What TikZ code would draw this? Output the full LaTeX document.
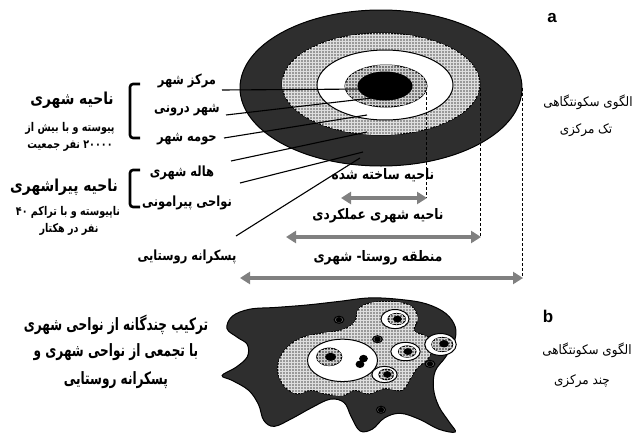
\documentclass[tikz,border=0pt]{standalone}
\usepackage{fontspec}
\setmainfont{Liberation Sans}
\TeXXeTstate=1
\newfontfamily\fa[Script=Arabic]{DejaVu Sans}
\usetikzlibrary{arrows.meta,patterns}
\newcommand{\RTLtxt}[1]{\beginR #1\endR}
\definecolor{darkring}{HTML}{2E2E2E}
\definecolor{midring}{HTML}{9A9A9A}
\definecolor{keyring}{HTML}{7A7A7A}
\definecolor{dotring}{HTML}{5A5A5A}
\definecolor{arrowgray}{HTML}{808080}
\begin{document}
\begin{tikzpicture}[x=1pt,y=-1pt,
  ringline/.style={draw=black, line width=1pt},
  darkfill/.style={ringline, fill=darkring},
  grayfill/.style={ringline, fill=midring, postaction={pattern=grid, pattern color=white!75!gray}},
  keyfill/.style={ringline, fill=keyring, postaction={pattern=grid, pattern color=gray!35}},
  dotfill/.style={ringline, fill=dotring},
  whitefill/.style={ringline, fill=white},
  corefill/.style={draw=black, line width=1pt, fill=black},
  leader/.style={draw=black, line width=1.1pt},
  dimline/.style={draw=black, line width=0.8pt, dash pattern=on 3pt off 2pt},
  dimarrow/.style={draw=arrowgray, line width=4pt, {Triangle[length=10pt,width=12pt]}-{Triangle[length=10pt,width=12pt]}},
  brack/.style={draw=black, line width=2.6pt, rounded corners=3pt},
  midlbl/.style={font=\fa\bfseries\fontsize{14}{16}\selectfont, inner sep=0pt, xscale=0.82},
  title/.style={font=\fa\bfseries\fontsize{16.5}{18}\selectfont, inner sep=0pt, xscale=0.84},
  sub/.style={font=\fa\bfseries\fontsize{12}{14}\selectfont, inner sep=0pt, xscale=0.8},
  dimlbl/.style={font=\fa\bfseries\fontsize{14.5}{16}\selectfont, inner sep=0pt, xscale=0.84},
  sidelbl/.style={font=\fa\fontsize{13}{15}\selectfont, inner sep=0pt, xscale=0.92},
  biglbl/.style={font=\fa\bfseries\fontsize{17}{19}\selectfont, inner sep=0pt, xscale=0.71},
  letter/.style={font=\bfseries\fontsize{17}{19}\selectfont, inner sep=0pt}
]
\useasboundingbox[fill=white] (0,0) rectangle (633,434);

% ---------- (a) concentric model ----------
\path[darkfill] (381,88) ellipse [x radius=141pt, y radius=78pt];
\path[grayfill] (381,84) ellipse [x radius=99pt, y radius=51pt];
\path[whitefill] (385,85) ellipse [x radius=68pt, y radius=35pt];
\path[keyfill] (386,86) ellipse [x radius=41pt, y radius=21pt];
\path[corefill] (385,86) ellipse [x radius=27pt, y radius=14pt];

% dashed extension lines
\coordinate (d1t) at (426,92);
\coordinate (d1b) at (426,198);
\coordinate (d2t) at (480,88);
\coordinate (d2b) at (480,237);
\coordinate (d3t) at (522,88);
\coordinate (d3b) at (522,278);
\draw[dimline] (d1t) -- (d1b);
\draw[dimline] (d2t) -- (d2b);
\draw[dimline] (d3t) -- (d3b);

% labels of the rings
\node[midlbl] (mc) at (187,81) {\RTLtxt{مرکز شهر}};
\node[midlbl] (sd) at (187,110) {\RTLtxt{شهر درونی}};
\node[midlbl] (hs) at (187,139) {\RTLtxt{حومه شهر}};
\node[midlbl] (hl) at (182,173) {\RTLtxt{هاله شهری}};
\node[midlbl] (np) at (187,203) {\RTLtxt{نواحی پیرامونی}};
\node[midlbl] (pr) at (187,257) {\RTLtxt{پسکرانه روستایی}};

% leader lines
\coordinate (s1) at (222,90);   \coordinate (e1) at (368,89);
\coordinate (s2) at (226,115);  \coordinate (e2) at (372,98);
\coordinate (s3) at (224,138);  \coordinate (e3) at (367,115);
\coordinate (s4) at (231,161);  \coordinate (e4) at (367,132);
\coordinate (s5) at (240,183);  \coordinate (e5) at (363,152);
\coordinate (s6) at (236,236);  \coordinate (e6) at (360,158);
\draw[leader] (s1) -- (e1);
\draw[leader] (s2) -- (e2);
\draw[leader] (s3) -- (e3);
\draw[leader] (s4) -- (e4);
\draw[leader] (s5) -- (e5);
\draw[leader] (s6) -- (e6);

% brackets
\draw[brack] (140,84) -- (130,84) -- (130,138) -- (140,138);
\draw[brack] (140,170) -- (130,170) -- (130,207) -- (140,207);

% left group titles
\node[title] (t1) at (72,100) {\RTLtxt{ناحیه شهری}};
\node[sub] (t1a) at (70,128) {\RTLtxt{پیوسته و با بیش از}};
\node[sub] (t1b) at (70,146) {\RTLtxt{\beginL۲۰۰۰۰\endL{} نفر جمعیت}};
\node[title] (t2) at (64,187) {\RTLtxt{ناحیه پیراشهری}};
\node[sub] (t2a) at (68,212) {\RTLtxt{ناپیوسته و با تراکم \beginL۴۰\endL}};
\node[sub] (t2b) at (69,229) {\RTLtxt{نفر در هکتار}};

% dimension arrows and their labels
\node[dimlbl] (l1) at (383,175) {\RTLtxt{ناحیه ساخته شده}};
\node[dimlbl] (l2) at (378,216) {\RTLtxt{ناحیه شهری عملکردی}};
\node[dimlbl] (l3) at (378,258) {\RTLtxt{منطقه روستا- شهری}};
\coordinate (a1l) at (341,198); \coordinate (a1r) at (427,198);
\coordinate (a2l) at (286,237); \coordinate (a2r) at (481,237);
\coordinate (a3l) at (240,278); \coordinate (a3r) at (523,278);
\draw[dimarrow] (a1l) -- (a1r);
\draw[dimarrow] (a2l) -- (a2r);
\draw[dimarrow] (a3l) -- (a3r);

% right side
\node[letter] (la) at (552,18) {a};
\node[sidelbl] (ra1) at (588,102) {\RTLtxt{الگوی سکونتگاهی}};
\node[sidelbl] (ra2) at (586,130) {\RTLtxt{تک مرکزی}};

% ---------- (b) polycentric model ----------
\begin{scope}[shift={(157,288)}, x=0.35pt, y=-0.353pt]
\path[darkfill] plot[smooth cycle, tension=0.6] coordinates {
 (200,115) (215,80) (265,60) (340,55) (430,48) (520,38) (610,28) (700,33)
 (770,45) (825,72) (852,110) (850,150) (825,195) (795,235) (790,285)
 (805,335) (835,380) (852,408) (805,400) (750,372) (695,355) (650,368)
 (615,400) (580,405) (555,365) (535,325) (495,315) (440,340) (385,370)
 (335,392) (305,375) (290,330) (262,290) (215,262) (186,248) (225,225)
 (258,195) (258,160) (230,140)};
\path[grayfill] plot[smooth cycle, tension=0.6] coordinates {
 (565,95) (575,60) (610,42) (670,38) (725,50) (745,85) (735,120) (765,135)
 (790,150) (775,200) (745,225) (725,255) (700,290) (650,285) (605,300)
 (565,290) (530,305) (480,300) (440,290) (400,300) (365,280) (345,240)
 (350,200) (375,165) (415,140) (470,128) (530,118)};
% centres
\path[whitefill] (680,88) ellipse [x radius=40, y radius=27];
\path[keyfill] (685,88) ellipse [x radius=25, y radius=16];
\path[corefill] (687,88) ellipse [x radius=11, y radius=8];
\path[whitefill] (530,205) ellipse [x radius=100, y radius=60];
\path[keyfill] (492,195) ellipse [x radius=36, y radius=25];
\path[corefill] (496,195) ellipse [x radius=14, y radius=10];
\path[corefill] (590,200) ellipse [x radius=11, y radius=9];
\path[corefill] (580,216) ellipse [x radius=11, y radius=9];
\path[whitefill] (710,180) ellipse [x radius=42, y radius=26];
\path[keyfill] (715,180) ellipse [x radius=25, y radius=16];
\path[corefill] (717,180) ellipse [x radius=11, y radius=8];
\path[whitefill] (810,160) ellipse [x radius=45, y radius=31];
\path[keyfill] (815,160) ellipse [x radius=30, y radius=20];
\path[corefill] (820,158) ellipse [x radius=12, y radius=9];
\path[whitefill] (650,245) ellipse [x radius=36, y radius=23];
\path[keyfill] (655,245) ellipse [x radius=21, y radius=15];
\path[corefill] (658,245) ellipse [x radius=10, y radius=8];
% small settlements
\path[dotfill] (520,90) ellipse [x radius=14, y radius=10];
\path[corefill] (520,90) ellipse [x radius=7, y radius=6];
\path[dotfill] (630,145) ellipse [x radius=14, y radius=10];
\path[corefill] (630,145) ellipse [x radius=7, y radius=6];
\path[dotfill] (780,215) ellipse [x radius=14, y radius=10];
\path[corefill] (780,215) ellipse [x radius=7, y radius=6];
\path[dotfill] (640,345) ellipse [x radius=13, y radius=10];
\path[corefill] (640,345) ellipse [x radius=7, y radius=6];
\end{scope}

\node[biglbl] (bt1) at (116,325) {\RTLtxt{ترکیب چندگانه از نواحی شهری}};
\node[biglbl] (bt2) at (116,352) {\RTLtxt{با تجمعی از نواحی شهری و}};
\node[biglbl] (bt3) at (116,380) {\RTLtxt{پسکرانه روستایی}};

\node[letter] (lb) at (548,316) {b};
\node[sidelbl] (rb1) at (587,350) {\RTLtxt{الگوی سکونتگاهی}};
\node[sidelbl] (rb2) at (582,381) {\RTLtxt{چند مرکزی}};
\end{tikzpicture}
\end{document}
